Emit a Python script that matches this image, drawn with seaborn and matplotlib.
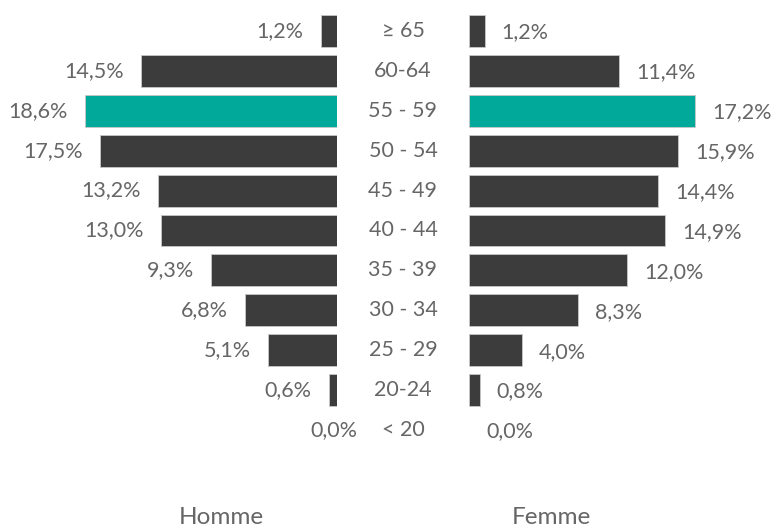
import matplotlib
matplotlib.use("Agg")
import matplotlib.pyplot as plt
import matplotlib.transforms as mtransforms
import seaborn as sns
import pandas as pd

sns.set_theme(style="white")
plt.rcParams['font.family'] = ['Lato', 'DejaVu Sans']

age_groups = ["≥ 65", "60-64", "55 - 59", "50 - 54", "45 - 49", "40 - 44",
              "35 - 39", "30 - 34", "25 - 29", "20-24", "< 20"]
homme = [1.2, 14.5, 18.6, 17.5, 13.2, 13.0, 9.3, 6.8, 5.1, 0.6, 0.0]
femme = [1.2, 11.4, 17.2, 15.9, 14.4, 14.9, 12.0, 8.3, 4.0, 0.8, 0.0]
highlight = "55 - 59"
side_labels = ["Homme", "Femme"]

DARK = "#3c3c3c"
TEAL = "#00a99a"
TEXT = "#666666"

W, H = 771, 527
fig = plt.figure(figsize=(W / 100, H / 100), dpi=100)

top_px, bot_px = 11, 450
ax_b = (H - bot_px) / H
ax_h = (bot_px - top_px) / H
axL = fig.add_axes([0, ax_b, 337 / W, ax_h])
axR = fig.add_axes([469 / W, ax_b, (W - 469) / W, ax_h])

df = pd.DataFrame({"age": age_groups, "homme": homme, "femme": femme})
palette = {a: (TEAL if a == highlight else DARK) for a in age_groups}

for ax, col in ((axL, "homme"), (axR, "femme")):
    sns.barplot(data=df, y="age", x=col, hue="age", palette=palette, order=age_groups,
                orient="h", width=0.8, ax=ax, legend=False, saturation=1,
                edgecolor="#c8c8c8", linewidth=0.6)
    for p in ax.patches:
        if p.get_width() == 0:
            p.set_linewidth(0)

axL.set_xlim(337 / 13.55, 0)
axR.set_xlim(0, (W - 469) / 13.15)

for ax in (axL, axR):
    ax.set_ylim(len(age_groups) - 0.5, -0.5)
    ax.axis("off")

fs = 15.5
gap = 17 / 100 * 72  # points
for i, v in enumerate(homme):
    lab = f"{v:.1f}%".replace(".", ",")
    if v == 0:
        axL.annotate(lab, (0, i), xytext=(20 / 100 * 72, 0), textcoords="offset points",
                     ha="right", va="center", fontsize=fs, color=TEXT)
    else:
        axL.annotate(lab, (v, i), xytext=(-gap, 0), textcoords="offset points",
                     ha="right", va="center", fontsize=fs, color=TEXT)
for i, v in enumerate(femme):
    lab = f"{v:.1f}%".replace(".", ",")
    axR.annotate(lab, (v, i), xytext=(gap, -1), textcoords="offset points",
                 ha="left", va="center", fontsize=fs, color=TEXT)

trans = mtransforms.blended_transform_factory(fig.transFigure, axR.transData)
for i, a in enumerate(age_groups):
    fig.text(403 / W, i, a, transform=trans, ha="center", va="center",
             fontsize=fs, color=TEXT)

fig.text(221 / W, 1 - 518 / H, side_labels[0], ha="center", va="center",
         fontsize=17.5, color=TEXT)
fig.text(551 / W, 1 - 518 / H, side_labels[1], ha="center", va="center",
         fontsize=17.5, color=TEXT)

fig.savefig("out.png", dpi=100, facecolor="white")
